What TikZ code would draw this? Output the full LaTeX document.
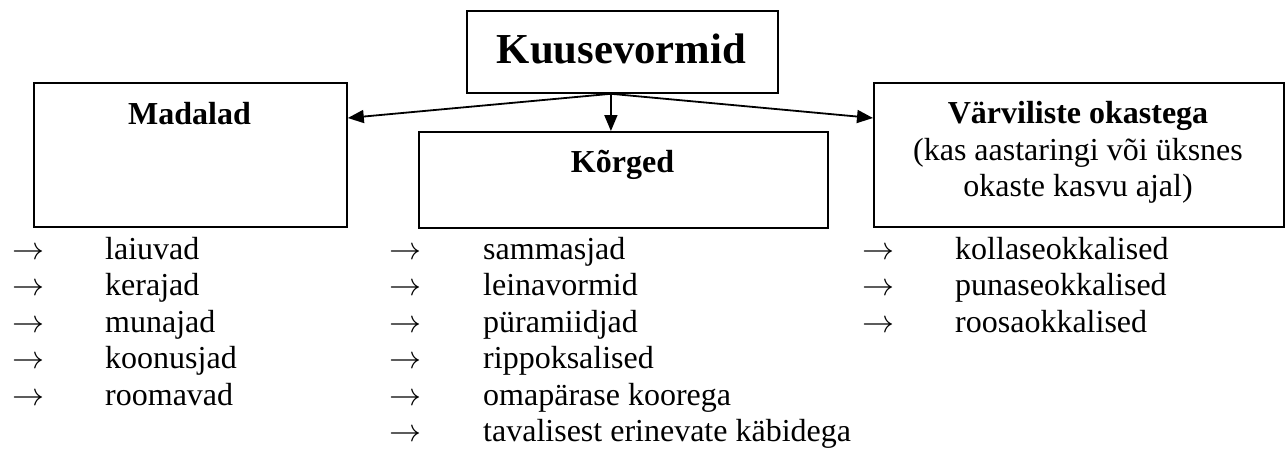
\RequirePackage{fix-cm}
\documentclass[tikz,border=0pt]{standalone}
\usepackage{fontspec}
\setmainfont{Liberation Serif}
\usetikzlibrary{arrows.meta}
\begin{document}
\begin{tikzpicture}[x=1pt,y=-1pt,
  box/.style={draw,line width=1.8pt,inner sep=0pt,anchor=north west},
  body/.style={inner sep=0pt,font=\fontsize{32}{36.5}\selectfont},
  head/.style={inner sep=0pt,anchor=base,font=\fontsize{32}{36.5}\selectfont\bfseries},
  sub/.style={inner sep=0pt,anchor=base,font=\fontsize{32}{36.5}\selectfont},
  item/.style={body,anchor=base west},
  conn/.style={line width=1.8pt,-{Triangle[length=16pt,width=13pt]}},
]
\useasboundingbox (0,0) rectangle (1285,450);

% frames
\node[box,minimum width=311pt,minimum height=82pt] (kuuse) at (466,10) {};
\node[box,minimum width=313pt,minimum height=144pt] (madalad) at (33,82) {};
\node[box,minimum width=409pt,minimum height=96pt] (korged) at (418,131) {};
\node[box,minimum width=410pt,minimum height=144pt] (varv) at (873,82) {};

% headings
\node[head,font=\fontsize{42.7}{48}\selectfont\bfseries] (kuuseT) at (621.5,63) {Kuusevormid};
\node[head] (madaladT) at (189.5,124) {Madalad};
\node[head] (korgedT) at (622.5,172) {Kõrged};
\node[head] (varvT) at (1078,123) {Värviliste okastega};
\node[sub] (varvS1) at (1078,160) {(kas aastaringi või üksnes};
\node[sub] (varvS2) at (1078,196) {okaste kasvu ajal)};

% connectors
\coordinate (src) at ([xshift=-11.5pt]kuuse.south);
\draw[conn] (src) -- ([yshift=-36pt]madalad.north east);
\draw[conn] (src) -- (src |- korged.north);
\draw[conn] (src) -- ([yshift=-36pt]varv.north west);

% lists
\newcommand{\bullto}{$\rightarrow$}
\foreach \t [count=\i] in {laiuvad,kerajad,munajad,koonusjad,roomavad} {
  \node[item] (maA\i) at (12,{259+36.5*(\i-1)}) {\bullto};
  \node[item] (maT\i) at (105,{259+36.5*(\i-1)}) {\t};
}
\foreach \t [count=\i] in {sammasjad,leinavormid,püramiidjad,rippoksalised,omapärase koorega,tavalisest erinevate käbidega} {
  \node[item] (koA\i) at (389,{259+36.5*(\i-1)}) {\bullto};
  \node[item] (koT\i) at (483,{259+36.5*(\i-1)}) {\t};
}
\foreach \t [count=\i] in {kollaseokkalised,punaseokkalised,roosaokkalised} {
  \node[item] (vaA\i) at (862,{259+36.5*(\i-1)}) {\bullto};
  \node[item] (vaT\i) at (955,{259+36.5*(\i-1)}) {\t};
}
\end{tikzpicture}
\end{document}
